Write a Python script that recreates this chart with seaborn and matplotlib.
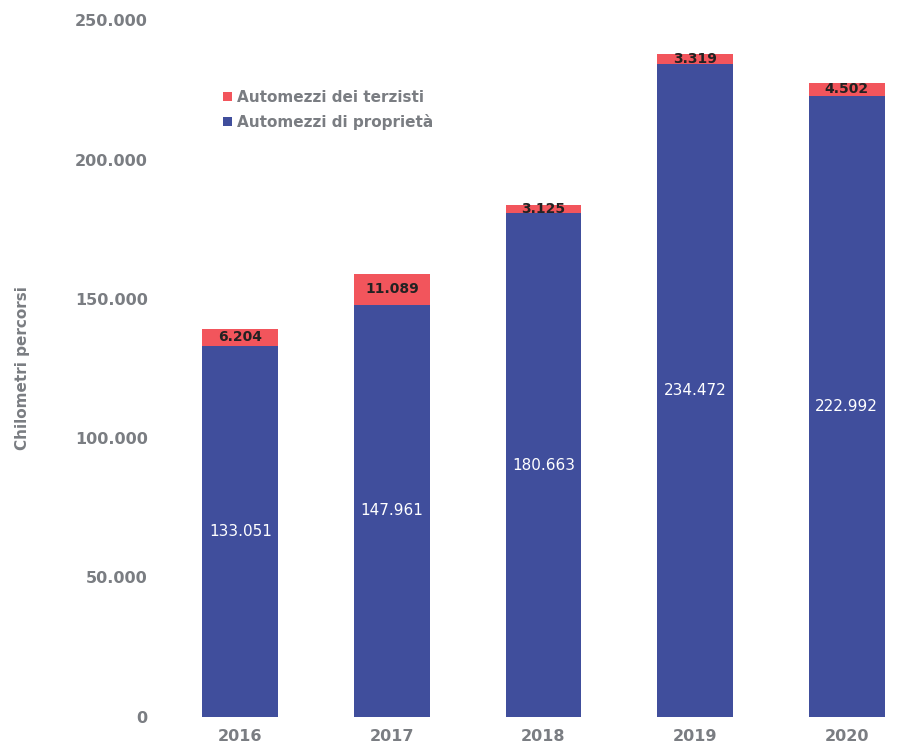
import numpy as np
import pandas as pd
import matplotlib.pyplot as plt
import seaborn as sns

# Data
years = ["2016", "2017", "2018", "2019", "2020"]
own_km = [133051, 147961, 180663, 234472, 222992]
third_km = [6204, 11089, 3125, 3319, 4502]

def fmt(v):
    return "{:,}".format(int(round(v))).replace(",", ".")

df = pd.DataFrame({"anno": years, "proprieta": own_km, "terzisti": third_km})
df["totale"] = df["proprieta"] + df["terzisti"]

sns.set_theme(style="white")
plt.rcParams['font.family'] = ['DejaVu Sans']

blue = "#404E9C"
red = "#F2555C"
grey = "#7A7D82"

fig = plt.figure(figsize=(9.14, 7.52), dpi=100)
ax = fig.add_axes([0.18, 0.047, 0.816, 0.926])

# Stacked bars: total in red behind, own fleet in blue in front
sns.barplot(data=df, x="anno", y="totale", color=red, width=0.5, ax=ax,
            saturation=1, linewidth=0, label="Automezzi dei terzisti")
sns.barplot(data=df, x="anno", y="proprieta", color=blue, width=0.5, ax=ax,
            saturation=1, linewidth=0, label="Automezzi di proprietà")

# Labels in the middle of each segment
for i, row in df.iterrows():
    ax.text(i, row["proprieta"] / 2, fmt(row["proprieta"]), ha="center", va="center",
            color="white", fontsize=11)
    ax.text(i, row["proprieta"] + row["terzisti"] / 2, fmt(row["terzisti"]),
            ha="center", va="center", color="#222222", fontsize=10, fontweight="bold")

ax.set_ylim(0, 250000)
ax.set_xlim(-0.5, 4.42)
ax.set_yticks(np.arange(0, 250001, 50000))
ax.set_yticklabels([fmt(v) for v in np.arange(0, 250001, 50000)])
ax.tick_params(axis="both", labelsize=11.5, colors=grey, length=0)
ax.tick_params(axis="y", pad=12)
ax.tick_params(axis="x", pad=9)
for lab in ax.get_xticklabels() + ax.get_yticklabels():
    lab.set_fontweight("heavy")
ax.set_xlabel("")
ax.set_ylabel("Chilometri percorsi", fontsize=11, fontweight="bold", color=grey)
ax.yaxis.set_label_coords(-0.18, 0.50)
for s in ax.spines.values():
    s.set_visible(False)

leg = ax.legend(loc="upper left", bbox_to_anchor=(0.06, 0.92), frameon=False,
                handlelength=0.6, handleheight=0.6, handletextpad=0.3,
                labelspacing=0.6, fontsize=11)
for t in leg.get_texts():
    t.set_color(grey)
    t.set_fontweight("bold")

fig.savefig("out.png", dpi=100, facecolor="white")
